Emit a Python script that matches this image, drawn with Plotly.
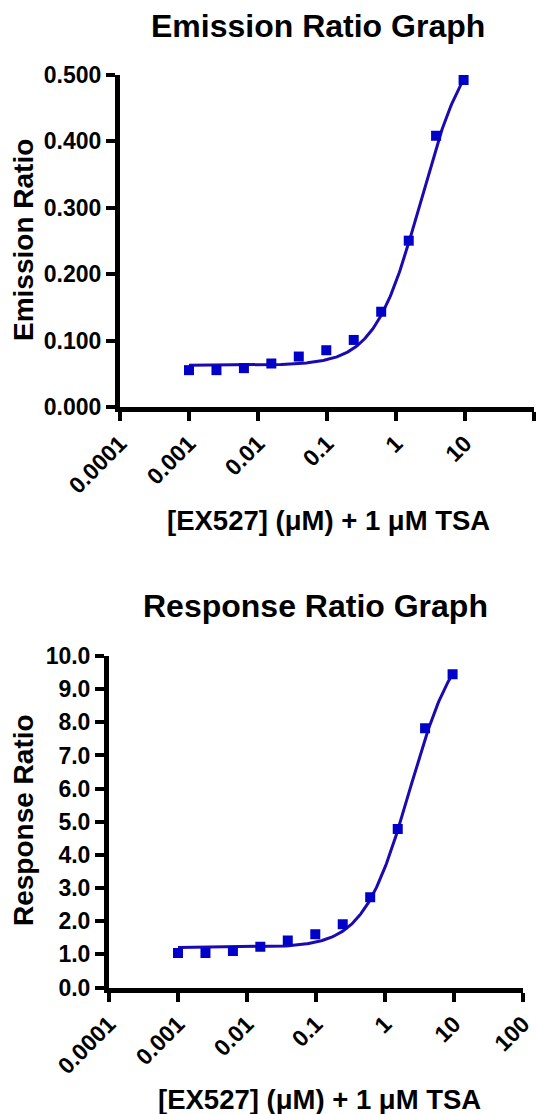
import numpy as np
import plotly.graph_objects as go

# ---- data ----
conc_uM = [0.001, 0.0025, 0.00625, 0.0156, 0.039, 0.0977, 0.244, 0.61, 1.53, 3.81, 9.54]
emission_ratio = [0.0555, 0.0555, 0.0585, 0.0655, 0.076, 0.0855, 0.101, 0.1435, 0.2505, 0.4085, 0.4925]
response_ratio = [1.04, 1.04, 1.10, 1.23, 1.42, 1.61, 1.91, 2.72, 4.78, 7.82, 9.45]

# 4-parameter logistic fit parameters (bottom, top, EC50, hill) as drawn
emission_fit = dict(bottom=0.063, top=0.56, ec50=2.3, hill=1.3)
response_fit = dict(bottom=1.21, top=10.75, ec50=2.3, hill=1.3)

x_tickvals = [0.0001, 0.001, 0.01, 0.1, 1, 10, 100]
x_ticktext = ["0.0001", "0.001", "0.01", "0.1", "1", "10", "100"]
emission_ticks = [0.0, 0.1, 0.2, 0.3, 0.4, 0.5]
response_ticks = [0, 1, 2, 3, 4, 5, 6, 7, 8, 9, 10]

titles = ["Emission Ratio Graph", "Response Ratio Graph"]
y_titles = ["Emission Ratio", "Response Ratio"]
x_title = "[EX527] (μM) + 1 μM TSA"


def four_pl(x, p):
    x = np.asarray(x, dtype=float)
    return p["bottom"] + (p["top"] - p["bottom"]) / (1 + (p["ec50"] / x) ** p["hill"])


W, H = 541, 1114
FONT = "Liberation Sans, Arial, sans-serif"
MARK = "#0000C8"
LINE = "#1A0AB0"

xfit = np.logspace(np.log10(conc_uM[0]), np.log10(conc_uM[-1]), 300)

fig = go.Figure()
fig.add_trace(go.Scatter(x=xfit, y=four_pl(xfit, emission_fit), mode="lines",
                         line=dict(color=LINE, width=3), xaxis="x", yaxis="y",
                         showlegend=False, hoverinfo="skip"))
fig.add_trace(go.Scatter(x=conc_uM, y=emission_ratio, mode="markers",
                         marker=dict(symbol="square", size=10, color=MARK),
                         xaxis="x", yaxis="y", showlegend=False))
fig.add_trace(go.Scatter(x=xfit, y=four_pl(xfit, response_fit), mode="lines",
                         line=dict(color=LINE, width=3), xaxis="x2", yaxis="y2",
                         showlegend=False, hoverinfo="skip"))
fig.add_trace(go.Scatter(x=conc_uM, y=response_ratio, mode="markers",
                         marker=dict(symbol="square", size=10, color=MARK),
                         xaxis="x2", yaxis="y2", showlegend=False))

def px_x(p):
    return p / W

def px_y(p):
    return 1 - p / H

tickfont = dict(family=FONT, size=23, color="black", weight="bold")
common_x = dict(type="log", range=[-4, 2], tickvals=x_tickvals, ticktext=x_ticktext,
                tickangle=-45, ticks="outside", ticklen=9, tickwidth=4,
                tickcolor="black", showline=True, linewidth=5, linecolor="black",
                showgrid=False, zeroline=False, tickfont=tickfont, automargin=False)
common_y = dict(ticks="outside", ticklen=9, tickwidth=4, tickcolor="black",
                showline=True, linewidth=5, linecolor="black", showgrid=False,
                zeroline=False, tickfont=tickfont, automargin=False)

fig.update_layout(
    width=W, height=H,
    margin=dict(l=0, r=0, t=0, b=0),
    paper_bgcolor="white", plot_bgcolor="white",
    xaxis=dict(**common_x, domain=[px_x(120), px_x(534)], anchor="y"),
    yaxis=dict(**common_y, domain=[px_y(407), px_y(75)], range=[0, 0.5],
               tickvals=emission_ticks, tickformat=".3f", anchor="x"),
    xaxis2=dict(**common_x, domain=[px_x(109), px_x(523)], anchor="y2"),
    yaxis2=dict(**common_y, domain=[px_y(987.5), px_y(656)], range=[0, 10],
                tickvals=response_ticks, tickformat=".1f", anchor="x2"),
)

ann = []
# chart titles
ann.append(dict(text="<b>%s</b>" % titles[0], x=px_x(318), y=px_y(26), xref="paper", yref="paper",
                xanchor="center", yanchor="middle", showarrow=False,
                font=dict(family=FONT, size=32, color="black")))
ann.append(dict(text="<b>%s</b>" % titles[1], x=px_x(315), y=px_y(606), xref="paper", yref="paper",
                xanchor="center", yanchor="middle", showarrow=False,
                font=dict(family=FONT, size=32, color="black")))
# y-axis titles
ann.append(dict(text="<b>%s</b>" % y_titles[0], x=px_x(23), y=px_y(240), xref="paper", yref="paper",
                xanchor="center", yanchor="middle", textangle=-90, showarrow=False,
                font=dict(family=FONT, size=28, color="black")))
ann.append(dict(text="<b>%s</b>" % y_titles[1], x=px_x(23), y=px_y(820), xref="paper", yref="paper",
                xanchor="center", yanchor="middle", textangle=-90, showarrow=False,
                font=dict(family=FONT, size=28, color="black")))
# x-axis titles
ann.append(dict(text="<b>%s</b>" % x_title, x=px_x(328), y=px_y(520), xref="paper", yref="paper",
                xanchor="center", yanchor="middle", showarrow=False,
                font=dict(family=FONT, size=27.5, color="black")))
ann.append(dict(text="<b>%s</b>" % x_title, x=px_x(319), y=px_y(1099), xref="paper", yref="paper",
                xanchor="center", yanchor="middle", showarrow=False,
                font=dict(family=FONT, size=27.5, color="black")))
fig.update_layout(annotations=ann)

fig.write_html("out.html")
